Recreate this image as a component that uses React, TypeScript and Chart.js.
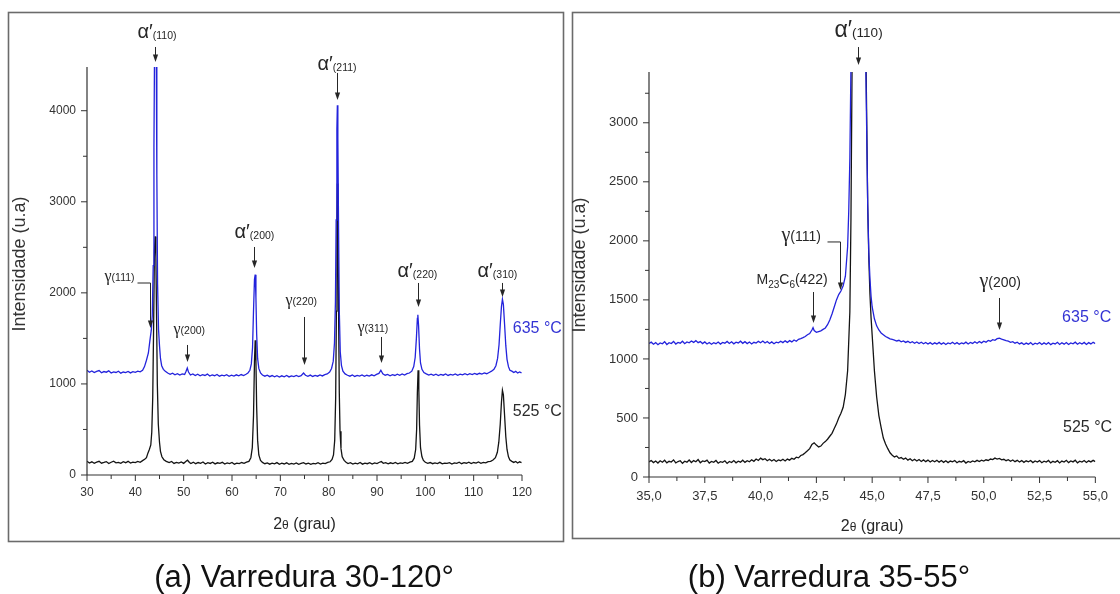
import React, { useEffect, useRef } from 'react';
import { Chart, registerables } from 'chart.js';

Chart.register(...registerables);

// ---------- DATA ----------
// Panel (a): scan 30-120 deg, [2theta, intensity]
const scanA525: number[][] = [
  [30,150],[30.5,132],[31,145],[31.5,128],[32,141],[32.5,150],[33,130],[33.5,138],[34,147],[34.5,126],[35,140],[35.5,152],[36,133],[36.5,139],[37,128],[37.5,146],[38,135],[38.5,150],[39,131],[39.5,142],[40,137],[40.5,149],[41,140],[41.5,158],[42,175],[42.3,190],[42.6,240],[42.9,280],[43.2,330],[43.4,470],[43.6,850],[43.8,1700],[43.95,2450],[44.1,2620],[44.25,2400],[44.4,1700],[44.55,1000],[44.75,560],[45.0,360],[45.2,260],[45.5,200],[45.9,168],[46.4,150],[47,136],[47.5,148],[48,127],[48.5,139],[49,130],[49.5,144],[50,128],[50.5,150],[50.8,162],[51.2,138],[51.5,126],[52,141],[52.5,124],[53,137],[53.5,129],[54,143],[54.5,121],[55,135],[55.5,127],[56,140],[56.5,122],[57,134],[57.5,128],[58,139],[58.5,120],[59,133],[59.5,126],[60,138],[60.5,119],[61,131],[61.5,125],[62,137],[62.5,128],[63,142],[63.5,150],[63.9,190],[64.2,300],[64.45,650],[64.65,1250],[64.8,1480],[64.95,1250],[65.1,750],[65.3,380],[65.55,220],[65.9,160],[66.3,138],[66.8,124],[67.3,133],[67.8,119],[68.3,130],[68.8,122],[69.3,136],[69.8,118],[70.3,129],[70.8,121],[71.3,134],[71.8,117],[72.3,128],[72.8,120],[73.3,132],[73.8,118],[74.3,127],[74.8,136],[75.3,121],[75.8,130],[76.3,117],[76.8,128],[77.3,122],[77.8,135],[78.3,120],[78.8,131],[79.3,125],[79.8,138],[80.3,145],[80.7,170],[81.0,220],[81.25,380],[81.45,850],[81.6,1800],[81.72,2800],[81.8,3200],[81.9,2800],[82.05,1800],[82.2,900],[82.35,480],[82.55,290],[82.8,200],[83.2,160],[83.6,140],[84,126],[84.5,135],[85,120],[85.5,131],[86,123],[86.5,137],[87,119],[87.5,130],[88,124],[88.5,136],[89,121],[89.5,133],[90,126],[90.5,140],[90.9,148],[91.3,128],[91.8,135],[92.3,122],[92.8,134],[93.3,126],[93.8,138],[94.3,123],[94.8,132],[95.3,127],[95.8,139],[96.3,128],[96.8,141],[97.3,150],[97.7,185],[98.0,280],[98.2,500],[98.35,900],[98.5,1150],[98.65,950],[98.8,550],[99.0,300],[99.3,200],[99.6,160],[100,140],[100.5,128],[101,137],[101.5,124],[102,133],[102.5,126],[103,139],[103.5,122],[104,131],[104.5,127],[105,136],[105.5,121],[106,133],[106.5,128],[107,140],[107.5,124],[108,135],[108.5,129],[109,141],[109.5,126],[110,137],[110.5,130],[111,143],[111.5,128],[112,139],[112.5,133],[113,146],[113.5,150],[114,165],[114.5,190],[114.9,250],[115.2,360],[115.5,560],[115.75,800],[115.95,930],[116.15,880],[116.4,650],[116.65,420],[116.9,280],[117.2,200],[117.5,165],[117.9,150],[118.3,138],[118.7,148],[119.1,132],[119.5,145],[119.9,136]
];
const scanA635: number[][] = [
  [30,1150],[30.5,1128],[31,1142],[31.5,1125],[32,1138],[32.5,1147],[33,1123],[33.5,1136],[34,1129],[34.5,1144],[35,1120],[35.5,1133],[36,1126],[36.5,1140],[37,1118],[37.5,1131],[38,1124],[38.5,1137],[39,1121],[39.5,1135],[40,1127],[40.5,1140],[41,1132],[41.5,1150],[41.9,1190],[42.3,1260],[42.7,1340],[43.0,1470],[43.3,1590],[43.5,1750],[43.7,2300],[43.85,3600],[44.0,4900],[44.15,5300],[44.3,4900],[44.45,3300],[44.6,2100],[44.8,1600],[45.0,1420],[45.2,1280],[45.45,1200],[45.8,1160],[46.2,1140],[46.7,1120],[47.2,1105],[47.7,1118],[48.2,1100],[48.7,1112],[49.2,1097],[49.7,1110],[50.2,1104],[50.5,1140],[50.75,1175],[51.0,1130],[51.4,1098],[51.9,1110],[52.4,1092],[52.9,1106],[53.4,1089],[53.9,1102],[54.4,1093],[54.9,1108],[55.4,1086],[55.9,1099],[56.4,1090],[56.9,1104],[57.4,1085],[57.9,1097],[58.4,1088],[58.9,1101],[59.4,1084],[59.9,1096],[60.4,1087],[60.9,1100],[61.4,1089],[61.9,1103],[62.4,1092],[62.9,1106],[63.3,1120],[63.7,1150],[64.0,1220],[64.25,1400],[64.45,1800],[64.65,2150],[64.8,2200],[64.95,1950],[65.1,1550],[65.3,1280],[65.55,1170],[65.9,1120],[66.3,1098],[66.8,1085],[67.3,1096],[67.8,1080],[68.3,1092],[68.8,1078],[69.3,1090],[69.8,1076],[70.3,1089],[70.8,1079],[71.3,1093],[71.8,1077],[72.3,1088],[72.8,1081],[73.3,1094],[73.8,1080],[74.3,1091],[74.8,1120],[75.2,1095],[75.7,1084],[76.2,1097],[76.7,1082],[77.2,1093],[77.7,1085],[78.2,1099],[78.7,1088],[79.2,1102],[79.7,1110],[80.2,1130],[80.6,1170],[80.95,1250],[81.2,1450],[81.4,1900],[81.55,2800],[81.7,3800],[81.8,4060],[81.9,3700],[82.05,2700],[82.2,1800],[82.4,1350],[82.65,1200],[82.95,1140],[83.4,1110],[83.9,1095],[84.4,1085],[84.9,1098],[85.4,1082],[85.9,1094],[86.4,1086],[86.9,1099],[87.4,1083],[87.9,1095],[88.4,1087],[88.9,1100],[89.4,1089],[89.9,1104],[90.4,1115],[90.8,1150],[91.2,1112],[91.7,1096],[92.2,1104],[92.7,1090],[93.2,1102],[93.7,1093],[94.2,1107],[94.7,1095],[95.2,1109],[95.7,1098],[96.2,1112],[96.7,1120],[97.2,1140],[97.6,1190],[97.9,1290],[98.15,1500],[98.35,1720],[98.45,1760],[98.6,1640],[98.8,1380],[99.0,1230],[99.3,1160],[99.7,1125],[100.2,1110],[100.7,1097],[101.2,1108],[101.7,1094],[102.2,1106],[102.7,1092],[103.2,1104],[103.7,1096],[104.2,1109],[104.7,1093],[105.2,1105],[105.7,1097],[106.2,1110],[106.7,1095],[107.2,1107],[107.7,1099],[108.2,1112],[108.7,1100],[109.2,1113],[109.7,1102],[110.2,1115],[110.7,1104],[111.2,1117],[111.7,1108],[112.2,1121],[112.7,1112],[113.2,1126],[113.7,1140],[114.2,1160],[114.6,1200],[114.95,1280],[115.25,1430],[115.5,1650],[115.75,1850],[115.95,1930],[116.15,1870],[116.4,1650],[116.65,1420],[116.9,1270],[117.2,1190],[117.5,1150],[117.9,1140],[118.3,1125],[118.7,1138],[119.1,1120],[119.5,1132],[119.9,1122]
];

// Panel (b): scan 35-55 deg, [2theta, intensity]
const scanB525: number[][] = [
  [35.0,128],[35.1,140],[35.2,122],[35.3,135],[35.4,118],[35.5,137],[35.6,125],[35.7,142],[35.8,120],[35.9,133],[36.0,127],[36.1,145],[36.2,119],[36.3,131],[36.4,138],[36.5,116],[36.6,134],[36.7,126],[36.8,144],[36.9,123],[37.0,139],[37.1,129],[37.2,148],[37.3,121],[37.4,136],[37.5,130],[37.6,143],[37.7,118],[37.8,132],[37.9,125],[38.0,140],[38.1,117],[38.2,130],[38.3,124],[38.4,137],[38.5,115],[38.6,131],[38.7,122],[38.8,139],[38.9,120],[39.0,134],[39.1,126],[39.2,142],[39.3,124],[39.4,138],[39.5,129],[39.6,146],[39.7,133],[39.8,152],[39.9,140],[40.0,160],[40.1,147],[40.2,155],[40.3,138],[40.4,150],[40.5,136],[40.6,148],[40.7,132],[40.8,145],[40.9,138],[41.0,150],[41.1,136],[41.2,152],[41.3,143],[41.4,158],[41.5,150],[41.6,168],[41.7,162],[41.8,182],[41.9,190],[42.0,205],[42.1,222],[42.2,240],[42.3,275],[42.4,290],[42.5,270],[42.6,255],[42.7,262],[42.8,285],[42.9,300],[43.0,320],[43.1,345],[43.2,370],[43.3,410],[43.4,450],[43.5,500],[43.6,540],[43.7,590],[43.8,700],[43.9,900],[44.0,1400],[44.05,2200],[44.1,3500],[44.2,7000],[44.4,9000],[44.6,8000],[44.72,3600],[44.8,2300],[44.85,1850],[44.9,1550],[44.95,1350],[45.0,1200],[45.1,900],[45.2,680],[45.3,520],[45.4,420],[45.5,330],[45.6,280],[45.7,240],[45.8,205],[45.9,185],[46.0,170],[46.1,178],[46.2,158],[46.3,165],[46.4,150],[46.5,160],[46.6,143],[46.7,155],[46.8,138],[46.9,150],[47.0,135],[47.1,148],[47.2,132],[47.3,145],[47.4,130],[47.5,143],[47.6,127],[47.7,140],[47.8,129],[47.9,142],[48.0,126],[48.1,139],[48.2,124],[48.3,137],[48.4,122],[48.5,135],[48.6,128],[48.7,140],[48.8,121],[48.9,133],[49.0,126],[49.1,138],[49.2,118],[49.3,132],[49.4,125],[49.5,136],[49.6,128],[49.7,141],[49.8,131],[49.9,143],[50.0,135],[50.1,146],[50.2,140],[50.3,152],[50.4,147],[50.5,160],[50.6,152],[50.7,158],[50.8,145],[50.9,150],[51.0,138],[51.1,146],[51.2,133],[51.3,144],[51.4,130],[51.5,141],[51.6,127],[51.7,139],[51.8,124],[51.9,137],[52.0,129],[52.1,140],[52.2,122],[52.3,136],[52.4,127],[52.5,139],[52.6,121],[52.7,134],[52.8,126],[52.9,140],[53.0,120],[53.1,133],[53.2,125],[53.3,138],[53.4,119],[53.5,135],[53.6,127],[53.7,141],[53.8,122],[53.9,136],[54.0,128],[54.1,142],[54.2,120],[54.3,134],[54.4,126],[54.5,139],[54.6,123],[54.7,137],[54.8,128],[54.9,141],[55.0,130]
];
const scanB635: number[][] = [
  [35.0,1130],[35.1,1142],[35.2,1125],[35.3,1138],[35.4,1120],[35.5,1135],[35.6,1128],[35.7,1146],[35.8,1122],[35.9,1137],[36.0,1130],[36.1,1148],[36.2,1126],[36.3,1140],[36.4,1133],[36.5,1150],[36.6,1129],[36.7,1144],[36.8,1136],[36.9,1152],[37.0,1140],[37.1,1155],[37.2,1138],[37.3,1147],[37.4,1130],[37.5,1144],[37.6,1127],[37.7,1139],[37.8,1124],[37.9,1137],[38.0,1129],[38.1,1143],[38.2,1126],[38.3,1140],[38.4,1133],[38.5,1148],[38.6,1131],[38.7,1145],[38.8,1128],[38.9,1142],[39.0,1135],[39.1,1150],[39.2,1132],[39.3,1146],[39.4,1130],[39.5,1143],[39.6,1127],[39.7,1141],[39.8,1134],[39.9,1149],[40.0,1137],[40.1,1152],[40.2,1135],[40.3,1147],[40.4,1131],[40.5,1144],[40.6,1129],[40.7,1142],[40.8,1136],[40.9,1150],[41.0,1138],[41.1,1153],[41.2,1140],[41.3,1155],[41.4,1144],[41.5,1160],[41.6,1150],[41.7,1166],[41.8,1172],[41.9,1180],[42.0,1190],[42.1,1205],[42.2,1215],[42.3,1245],[42.35,1265],[42.4,1240],[42.5,1225],[42.6,1232],[42.7,1238],[42.8,1250],[42.9,1262],[43.0,1290],[43.1,1330],[43.2,1380],[43.3,1440],[43.4,1500],[43.5,1545],[43.6,1575],[43.7,1620],[43.8,1700],[43.9,1950],[43.95,2250],[44.0,2700],[44.05,3500],[44.2,6000],[44.4,8000],[44.6,7000],[44.72,3400],[44.8,2300],[44.85,1900],[44.9,1680],[44.95,1530],[45.0,1440],[45.1,1340],[45.2,1280],[45.3,1245],[45.4,1220],[45.5,1205],[45.6,1190],[45.7,1180],[45.8,1170],[45.9,1165],[46.0,1160],[46.1,1152],[46.2,1158],[46.3,1145],[46.4,1152],[46.5,1140],[46.6,1149],[46.7,1136],[46.8,1146],[46.9,1133],[47.0,1143],[47.1,1130],[47.2,1141],[47.3,1128],[47.4,1139],[47.5,1126],[47.6,1138],[47.7,1124],[47.8,1136],[47.9,1127],[48.0,1140],[48.1,1125],[48.2,1137],[48.3,1122],[48.4,1135],[48.5,1128],[48.6,1141],[48.7,1126],[48.8,1138],[48.9,1124],[49.0,1136],[49.1,1129],[49.2,1142],[49.3,1127],[49.4,1140],[49.5,1131],[49.6,1146],[49.7,1133],[49.8,1148],[49.9,1136],[50.0,1150],[50.1,1142],[50.2,1156],[50.3,1150],[50.4,1163],[50.5,1158],[50.6,1172],[50.7,1175],[50.8,1168],[50.9,1162],[51.0,1155],[51.1,1150],[51.2,1141],[51.3,1146],[51.4,1133],[51.5,1141],[51.6,1127],[51.7,1136],[51.8,1122],[51.9,1134],[52.0,1125],[52.1,1138],[52.2,1120],[52.3,1133],[52.4,1126],[52.5,1139],[52.6,1122],[52.7,1136],[52.8,1124],[52.9,1138],[53.0,1121],[53.1,1134],[53.2,1127],[53.3,1141],[53.4,1123],[53.5,1137],[53.6,1125],[53.7,1139],[53.8,1122],[53.9,1135],[54.0,1128],[54.1,1142],[54.2,1124],[54.3,1137],[54.4,1126],[54.5,1140],[54.6,1123],[54.7,1138],[54.8,1127],[54.9,1141],[55.0,1130]
];

// Axis ticks (majors are labelled, the rest are minor marks)
const ticksAX = [30,35,40,45,50,55,60,65,70,75,80,85,90,95,100,105,110,115,120];
const ticksAY = [0,500,1000,1500,2000,2500,3000,3500,4000];
const ticksBX = [35,36.25,37.5,38.75,40,41.25,42.5,43.75,45,46.25,47.5,48.75,50,51.25,52.5,53.75,55];
const ticksBY = [0,250,500,750,1000,1250,1500,1750,2000,2250,2500,2750,3000,3250];

const seriesNames = ['635 °C', '525 °C'];
const captionA = '(a) Varredura 30-120°';
const captionB = '(b) Varredura 35-55°';
const yTitleText = 'Intensidade (u.a)';

// Peak labels: x (2theta), tip (intensity the arrow points to)
const peaksA = [
  { x: 44.0, tip: 4535, main: 'α′', sub: '(110)' },
  { x: 81.76, tip: 4118, main: 'α′', sub: '(211)' },
  { x: 64.6, tip: 2273, main: 'α′', sub: '(200)' },
  { x: 98.4, tip: 1845, main: 'α′', sub: '(220)' },
  { x: 115.8, tip: 1955, main: 'α′', sub: '(310)' },
  { x: 43.04, tip: 1614, main: 'γ', sub: '(111)' },
  { x: 50.7, tip: 1241, main: 'γ', sub: '(200)' },
  { x: 74.8, tip: 1208, main: 'γ', sub: '(220)' },
  { x: 90.8, tip: 1230, main: 'γ', sub: '(311)' },
];
const peaksB = [
  { x: 44.386, tip: 3489, main: 'α′', sub: '(110)' },
  { x: 43.553, tip: 1584, main: 'γ', sub: '(111)' },
  { x: 42.368, tip: 1304, main: 'M23C6', sub: '(422)' },
  { x: 50.7, tip: 1245, main: 'γ', sub: '(200)' },
];

// ---------- DRAWING HELPERS ----------
const SANS = '"Liberation Sans", Arial, sans-serif';
const SERIF = '"Liberation Serif", "Times New Roman", serif';
const BLUE = '#2323dc';
const INK = '#262626';

type Part = { t: string; size: number; dy?: number; serif?: boolean };

function partsWidth(ctx: CanvasRenderingContext2D, parts: Part[]) {
  let w = 0;
  for (const p of parts) {
    ctx.font = `${p.size}px ${p.serif ? SERIF : SANS}`;
    w += ctx.measureText(p.t).width;
  }
  return w;
}
function drawParts(ctx: CanvasRenderingContext2D, parts: Part[], x: number, y: number) {
  let cx = x;
  for (const p of parts) {
    ctx.font = `${p.size}px ${p.serif ? SERIF : SANS}`;
    ctx.fillText(p.t, cx, y + (p.dy || 0));
    cx += ctx.measureText(p.t).width;
  }
}
function arrow(ctx: CanvasRenderingContext2D, x: number, y0: number, y1: number) {
  ctx.beginPath();
  ctx.moveTo(x, y0);
  ctx.lineTo(x, y1 - 6);
  ctx.stroke();
  ctx.beginPath();
  ctx.moveTo(x - 2.6, y1 - 7.5);
  ctx.lineTo(x + 2.6, y1 - 7.5);
  ctx.lineTo(x, y1);
  ctx.closePath();
  ctx.fill();
}

type Layout = { len: number; dx: number; dy: number; bracket?: number };
type PanelSpec = {
  id: string;
  left: number; width: number;
  padding: { left: number; right: number; top: number; bottom: number };
  xMin: number; xMax: number; xTicks: number[]; xMajor: number;
  yMax: number; yTicks: number[]; yMajor: number;
  tickSize: number; xPad: number; yPad: number;
  xFmt: (v: number) => string;
  s635: number[][]; s525: number[][];
  peaks: { x: number; tip: number; main: string; sub: string }[];
  layouts: Layout[];
  partsFor: (main: string, sub: string) => Part[];
  labelPos: { x: number; y: number }[];
  frame: [number, number, number, number];
  yTitleX: number; yTitleY: number; yTitleSize: number;
  xTitleBase: number;
  caption: string; captionX: number; captionBase: number;
};

function isMajor(v: number, m: number) {
  const r = v / m;
  return Math.abs(r - Math.round(r)) < 1e-6;
}

const panelA: PanelSpec = {
  id: 'a', left: 0, width: 566,
  padding: { left: 27, right: 44, top: 67, bottom: 79 },
  xMin: 30, xMax: 120, xTicks: ticksAX, xMajor: 10,
  yMax: 4480, yTicks: ticksAY, yMajor: 1000,
  tickSize: 12, xPad: 10, yPad: 11,
  xFmt: (v) => String(v),
  s635: scanA635, s525: scanA525,
  peaks: peaksA,
  layouts: [
    { len: 15, dx: -18, dy: -9 },
    { len: 27, dx: -20, dy: -3 },
    { len: 21, dx: -20, dy: -9 },
    { len: 24, dx: -21, dy: -6 },
    { len: 14, dx: -25, dy: -6 },
    { len: 45, dx: -46, dy: -2, bracket: -13 },
    { len: 17, dx: -14, dy: -11 },
    { len: 48, dx: -19, dy: -12 },
    { len: 26, dx: -24, dy: -5 },
  ],
  partsFor: (main, sub) =>
    main === 'γ'
      ? [{ t: 'γ', size: 16, serif: true }, { t: sub, size: 10.5 }]
      : [{ t: main, size: 20 }, { t: sub, size: 10.5, dy: 1 }],
  labelPos: [{ x: 118.1, y: 1559 }, { x: 118.1, y: 648 }],
  frame: [8.5, 12.5, 555, 529],
  yTitleX: 20.5, yTitleY: 264, yTitleSize: 18,
  xTitleBase: 529,
  caption: captionA, captionX: 304, captionBase: 587,
};

const panelB: PanelSpec = {
  id: 'b', left: 566, width: 554,
  padding: { left: 23, right: 15, top: 72, bottom: 77 },
  xMin: 35, xMax: 55, xTicks: ticksBX, xMajor: 2.5,
  yMax: 3430, yTicks: ticksBY, yMajor: 500,
  tickSize: 13, xPad: 12, yPad: 11,
  xFmt: (v) => v.toFixed(1).replace('.', ','),
  s635: scanB635, s525: scanB525,
  peaks: peaksB,
  layouts: [
    { len: 18, dx: -24, dy: -10 },
    { len: 48, dx: -59, dy: -1, bracket: -13 },
    { len: 31, dx: -57, dy: -8 },
    { len: 32, dx: -20, dy: -11 },
  ],
  partsFor: (main, sub) => {
    if (main === 'γ') return [{ t: 'γ', size: 20, serif: true }, { t: sub, size: 14 }];
    if (main === 'M23C6')
      return [
        { t: 'M', size: 14 }, { t: '23', size: 10, dy: 4 },
        { t: 'C', size: 14 }, { t: '6', size: 10, dy: 4 },
        { t: sub, size: 14 },
      ];
    return [{ t: main, size: 23 }, { t: sub, size: 13.5, dy: 0 }];
  },
  labelPos: [{ x: 53.51, y: 1313 }, { x: 53.55, y: 381 }],
  frame: [6.5, 12.5, 570, 526],
  yTitleX: 14.5, yTitleY: 265, yTitleSize: 18,
  xTitleBase: 531,
  caption: captionB, captionX: 829 - 566, captionBase: 587,
};

function decorPlugin(spec: PanelSpec) {
  return {
    id: 'decor_' + spec.id,
    afterDraw(chart: any) {
      const ctx: CanvasRenderingContext2D = chart.ctx;
      const { left, right, top, bottom } = chart.chartArea;
      const xs = chart.scales.x;
      const ys = chart.scales.y;
      ctx.save();
      // frame
      ctx.strokeStyle = '#6b6b6b';
      ctx.lineWidth = 1.6;
      ctx.strokeRect(spec.frame[0], spec.frame[1], spec.frame[2], spec.frame[3]);
      // axis lines
      ctx.strokeStyle = '#333';
      ctx.lineWidth = 1.2;
      ctx.beginPath();
      ctx.moveTo(left, bottom);
      ctx.lineTo(right, bottom);
      ctx.moveTo(left, bottom);
      ctx.lineTo(left, top);
      ctx.stroke();
      // tick marks
      ctx.lineWidth = 1;
      ctx.beginPath();
      for (const t of xs.ticks) {
        const p = xs.getPixelForValue(t.value);
        const l = isMajor(t.value, spec.xMajor) ? 6 : 4;
        ctx.moveTo(p, bottom);
        ctx.lineTo(p, bottom + l);
      }
      for (const t of ys.ticks) {
        const p = ys.getPixelForValue(t.value);
        const l = isMajor(t.value, spec.yMajor) ? 6 : 4;
        ctx.moveTo(left, p);
        ctx.lineTo(left - l, p);
      }
      ctx.stroke();

      // peak annotations
      ctx.fillStyle = INK;
      ctx.strokeStyle = INK;
      ctx.lineWidth = 1;
      ctx.textAlign = 'left';
      ctx.textBaseline = 'alphabetic';
      spec.peaks.forEach((pk, i) => {
        const lay = spec.layouts[i];
        const px = Math.round(xs.getPixelForValue(pk.x)) + 0.5;
        const tip = ys.getPixelForValue(pk.tip);
        const tail = tip - lay.len;
        arrow(ctx, px, tail, tip);
        if (lay.bracket !== undefined) {
          ctx.beginPath();
          ctx.moveTo(px + lay.bracket, tail);
          ctx.lineTo(px, tail);
          ctx.stroke();
        }
        drawParts(ctx, spec.partsFor(pk.main, pk.sub), px + lay.dx, tail + lay.dy);
      });

      // series labels
      ctx.font = `16px ${SANS}`;
      seriesNames.forEach((name, i) => {
        ctx.fillStyle = i === 0 ? '#3434d4' : '#2b2b2b';
        const lp = spec.labelPos[i];
        ctx.fillText(name, xs.getPixelForValue(lp.x), ys.getPixelForValue(lp.y));
      });

      // x title
      ctx.fillStyle = INK;
      const xt: Part[] = [{ t: '2', size: 16 }, { t: 'θ', size: 12 }, { t: ' (grau)', size: 16 }];
      const w = partsWidth(ctx, xt);
      drawParts(ctx, xt, (left + right) / 2 - w / 2, spec.xTitleBase);

      // y title
      ctx.save();
      ctx.translate(spec.yTitleX, spec.yTitleY);
      ctx.rotate(-Math.PI / 2);
      ctx.font = `${spec.yTitleSize}px ${SANS}`;
      ctx.textAlign = 'center';
      ctx.textBaseline = 'middle';
      ctx.fillStyle = '#333';
      ctx.fillText(yTitleText, 0, 0);
      ctx.restore();

      // caption
      ctx.font = `31px ${SANS}`;
      ctx.fillStyle = '#111';
      ctx.textAlign = 'center';
      ctx.fillText(spec.caption, spec.captionX, spec.captionBase);
      ctx.restore();
    },
  };
}

function buildChart(canvas: HTMLCanvasElement, spec: PanelSpec) {
  const toPts = (arr: number[][]) => arr.map(([x, y]) => ({ x, y }));
  return new Chart(canvas, {
    type: 'line',
    data: {
      datasets: [
        {
          label: seriesNames[0],
          data: toPts(spec.s635),
          borderColor: BLUE,
          borderWidth: 1.3,
          pointRadius: 0,
          tension: 0,
          fill: false,
        },
        {
          label: seriesNames[1],
          data: toPts(spec.s525),
          borderColor: '#141414',
          borderWidth: 1.3,
          pointRadius: 0,
          tension: 0,
          fill: false,
        },
      ],
    },
    options: {
      responsive: false,
      animation: false,
      devicePixelRatio: 1,
      events: [],
      layout: { padding: spec.padding },
      plugins: { legend: { display: false }, tooltip: { enabled: false }, title: { display: false } },
      scales: {
        x: {
          type: 'linear',
          min: spec.xMin,
          max: spec.xMax,
          grid: { display: false, drawTicks: false },
          border: { display: false },
          afterFit: (s: any) => { s.height = 40; },
          afterBuildTicks: (s: any) => { s.ticks = spec.xTicks.map((v) => ({ value: v })); },
          ticks: {
            autoSkip: false,
            maxRotation: 0,
            padding: spec.xPad,
            color: '#333',
            font: { family: SANS, size: spec.tickSize },
            callback: (v: any) => (isMajor(Number(v), spec.xMajor) ? spec.xFmt(Number(v)) : ''),
          },
        },
        y: {
          type: 'linear',
          min: 0,
          max: spec.yMax,
          grid: { display: false, drawTicks: false },
          border: { display: false },
          afterFit: (s: any) => { s.width = 60; },
          afterBuildTicks: (s: any) => { s.ticks = spec.yTicks.map((v) => ({ value: v })); },
          ticks: {
            autoSkip: false,
            padding: spec.yPad,
            color: '#333',
            font: { family: SANS, size: spec.tickSize },
            callback: (v: any) => (isMajor(Number(v), spec.yMajor) ? String(v) : ''),
          },
        },
      },
    } as any,
    plugins: [decorPlugin(spec)],
  });
}

function Panel({ spec }: { spec: PanelSpec }) {
  const ref = useRef<HTMLCanvasElement | null>(null);
  useEffect(() => {
    if (!ref.current) return;
    const chart = buildChart(ref.current, spec);
    return () => chart.destroy();
  }, [spec]);
  return (
    <canvas
      ref={ref}
      width={spec.width}
      height={594}
      style={{ position: 'absolute', left: spec.left, top: 0, width: spec.width, height: 594 }}
    />
  );
}

export default function App() {
  return (
    <div
      style={{
        position: 'fixed',
        left: 0,
        top: 0,
        width: 1120,
        height: 594,
        background: '#fff',
        overflow: 'hidden',
      }}
    >
      <Panel spec={panelA} />
      <Panel spec={panelB} />
    </div>
  );
}
